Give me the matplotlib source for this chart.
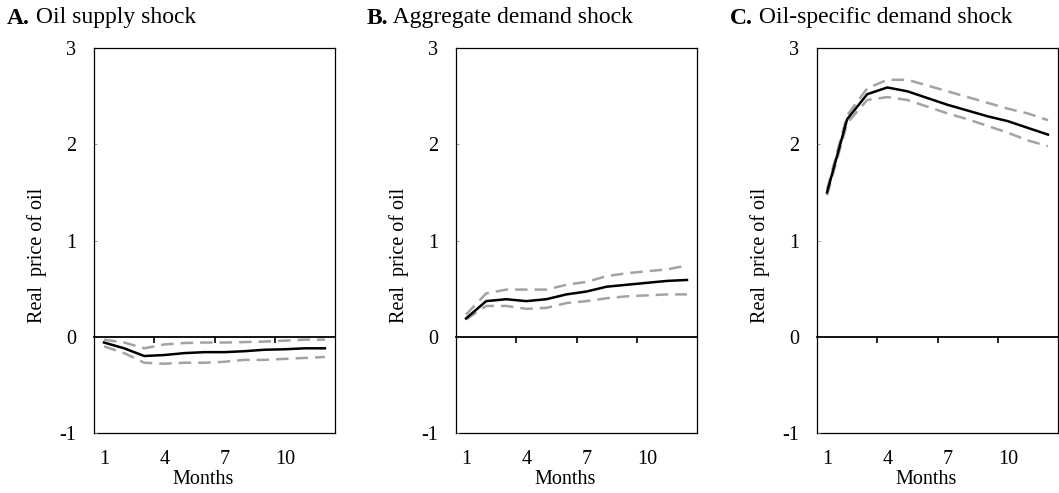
import matplotlib.pyplot as plt

plt.rcParams['font.family'] = 'Liberation Serif'
plt.rcParams['axes.unicode_minus'] = False

# impulse responses of the real price of oil, with one-standard-error bands
months = list(range(1, 13))
month_labels = [1, 4, 7, 10]

supply_irf = [-0.06, -0.12, -0.20, -0.19, -0.17, -0.16, -0.16, -0.15, -0.135, -0.13, -0.12, -0.12]
supply_upper = [-0.03, -0.06, -0.12, -0.08, -0.065, -0.06, -0.06, -0.055, -0.05, -0.04, -0.03, -0.03]
supply_lower = [-0.10, -0.17, -0.27, -0.28, -0.27, -0.27, -0.26, -0.24, -0.24, -0.23, -0.22, -0.21]

aggdemand_irf = [0.19, 0.37, 0.39, 0.37, 0.39, 0.44, 0.47, 0.52, 0.54, 0.56, 0.58, 0.59]
aggdemand_upper = [0.23, 0.45, 0.49, 0.49, 0.49, 0.54, 0.57, 0.63, 0.66, 0.68, 0.70, 0.74]
aggdemand_lower = [0.18, 0.32, 0.32, 0.29, 0.30, 0.35, 0.37, 0.40, 0.42, 0.43, 0.44, 0.44]

oilspecific_irf = [1.50, 2.26, 2.52, 2.59, 2.55, 2.48, 2.41, 2.35, 2.29, 2.24, 2.17, 2.10]
oilspecific_upper = [1.53, 2.30, 2.58, 2.67, 2.67, 2.61, 2.55, 2.49, 2.43, 2.37, 2.32, 2.25]
oilspecific_lower = [1.47, 2.22, 2.46, 2.49, 2.46, 2.39, 2.32, 2.26, 2.19, 2.12, 2.04, 1.98]

panel_letters = ['A.', 'B.', 'C.']
panel_titles = ['Oil supply shock', 'Aggregate demand shock', 'Oil-specific demand shock']
panel_data = [
    (supply_irf, supply_upper, supply_lower),
    (aggdemand_irf, aggdemand_upper, aggdemand_lower),
    (oilspecific_irf, oilspecific_upper, oilspecific_lower),
]

W, H = 1059, 493
fig = plt.figure(figsize=(W / 100, H / 100), dpi=100)

ax_lefts = [94, 456, 817]
title_lefts = [7, 367, 730]

for left, tleft, letter, title, (irf, upper, lower) in zip(
        ax_lefts, title_lefts, panel_letters, panel_titles, panel_data):
    ax = fig.add_axes([left / W, 60 / H, 241 / W, 385 / H])

    for band in (upper, lower):
        ax.plot(months, band, color='#a3a3a3', lw=1.8, dashes=(5, 2.8))
    ax.plot(months, irf, color='black', lw=1.8)

    ax.set_xlim(0.5, 12.5)
    ax.set_ylim(-1, 3)
    ax.set_yticks([-1, 0, 1, 2, 3])
    ax.tick_params(axis='y', direction='in', length=2.5, width=0.6,
                   color='#888888', labelsize=14.5, pad=13)

    # zero line carries the category tick marks
    ax.spines['bottom'].set_position(('data', 0))
    ax.spines['bottom'].set_linewidth(1.3)
    ax.set_xticks([m - 0.5 for m in month_labels[1:]])
    ax.set_xticklabels([])
    ax.tick_params(axis='x', direction='out', length=4, width=1.2)
    for side in ('left', 'right', 'top'):
        ax.spines[side].set_linewidth(0.9)

    # month labels along the frame bottom
    sec = ax.secondary_xaxis('bottom')
    sec.set_xticks(month_labels)
    sec.tick_params(length=0, labelsize=14.5, pad=12)
    sec.spines['bottom'].set_linewidth(0.9)
    ax.text(0.452, -0.122, 'Months', transform=ax.transAxes,
            fontsize=14.5, ha='center', va='center')

    ax.set_ylabel('Real  price of oil', fontsize=14.5, va='center')
    ax.yaxis.set_label_coords(-0.236, 0.462)

    head = fig.text(tleft / W, 1 - 18 / H, letter, fontsize=17,
                    fontweight='bold', va='center')
    ax.annotate(' ' + title, xy=(1, 0), xycoords=head, fontsize=17,
                va='bottom', ha='left', annotation_clip=False)

fig.savefig('out.png', dpi=100)
